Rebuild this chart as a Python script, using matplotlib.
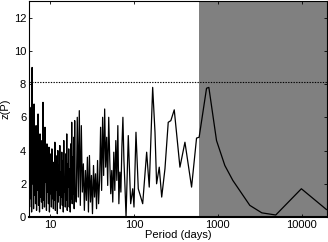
import matplotlib
matplotlib.use("Agg")
import matplotlib.pyplot as plt
import numpy as np

plt.rcParams['font.family'] = ['Liberation Sans', 'DejaVu Sans']

# dense short-period part (5.6 - 20 days)
z_dense_a = [4.2, 0.6, 5.2, 1.1, 6.6, 0.3, 9.0, 2.0, 5.3, 0.5, 6.8, 1.3, 4.9, 0.8,
             5.5, 0.4, 3.8, 1.6, 6.2, 0.7, 4.5, 0.3, 5.0, 1.2, 3.2, 0.9,
             4.6, 0.5, 6.9, 1.0, 3.9, 0.6, 5.4, 2.1, 3.0, 0.4, 4.4, 1.5,
             3.6, 0.8, 4.2, 0.3, 2.9, 1.4, 3.8, 0.6, 4.1, 1.1, 2.6, 0.5,
             3.3, 1.0, 4.5, 0.4, 3.7, 1.6, 2.8, 0.2, 4.0, 0.9, 3.1, 1.3,
             4.3, 0.5, 2.7, 1.2, 3.9, 0.7, 3.4, 0.3, 4.6, 1.5, 2.4, 0.6,
             3.8, 1.0, 5.0, 0.4, 3.2, 1.8, 4.1, 0.6, 2.9, 0.3, 4.4, 1.1,
             5.7, 0.8, 3.6, 1.4, 4.8, 0.5, 5.8, 1.6]
p_dense_a = np.geomspace(5.62, 19.9, len(z_dense_a))

# dense part (20 - 78 days)
z_dense_b = [0.9, 6.0, 1.2, 6.4, 0.7, 5.5,
             1.5, 3.2, 0.4, 2.8, 1.0, 3.6, 0.3,
             3.7, 0.9, 2.5, 0.2, 3.1, 1.2, 2.6, 0.5, 3.4, 0.8,
             2.2, 5.4, 1.6, 6.0, 2.5, 6.5, 3.0, 4.8, 1.9, 6.0,
             3.5, 1.4, 2.8, 0.9, 3.9, 1.6, 4.6, 2.2, 5.5,
             0.8, 2.7, 1.5, 4.2, 6.0, 3.4, 1.9]
p_dense_b = np.geomspace(20.5, 78, len(z_dense_b))

# sparse long-period part
p_sparse = [80.4, 85.5, 91.3, 96.6, 100, 105.6, 112.5, 120.2, 127, 141.6, 152,
            167, 178, 186, 200, 214, 234, 256, 275, 302, 353, 405, 486, 557,
            598, 733, 781, 964, 1211, 1509, 2404, 3342, 4900, 9900, 19700]
z_sparse = [0.0, 4.9, 0.8, 1.7, 0.6, 5.1, 1.7, 1.2, 0.8, 3.9, 1.8,
            7.8, 5.1, 2.0, 3.0, 1.2, 2.9, 5.7, 5.8, 6.45, 3.0, 4.5, 1.8, 4.75,
            4.8, 7.75, 7.8, 4.6, 3.1, 2.2, 0.7, 0.25, 0.12, 1.7, 0.45]

period = np.concatenate([p_dense_a, p_dense_b, p_sparse])
z = np.concatenate([z_dense_a, z_dense_b, z_sparse])

threshold = 8.1
shade_start = 600
xmin, xmax = 5.6, 20000

fig = plt.figure(figsize=(3.28, 2.42), dpi=100)
ax = fig.add_axes([0.0884, 0.1033, 0.9085, 0.8926])

ax.axvspan(shade_start, xmax, color='#808080', lw=0, zorder=0)
ax.plot(period, z, color='black', lw=0.9, zorder=2)
ax.axhline(threshold, color='black', lw=0.8, ls=(0, (1.2, 1.2)), zorder=3)

ax.set_xscale('log')
ax.set_xlim(xmin, xmax)
ax.set_ylim(0, 13)
ax.set_yticks([0, 2, 4, 6, 8, 10, 12])
ax.set_xticks([10, 100, 1000, 10000])
ax.set_xticklabels(['10', '100', '1000', '10000'])
ax.minorticks_off()
ax.tick_params(direction='in', length=2.5, width=0.6, labelsize=8, pad=2,
               top=True, right=True)
for s in ax.spines.values():
    s.set_linewidth(0.8)
ax.spines['bottom'].set_linewidth(1.5)

ax.set_xlabel('Period (days)', fontsize=8, labelpad=0)
ax.set_ylabel('z(P)', fontsize=8, labelpad=2)

fig.savefig('out.png', dpi=100)
